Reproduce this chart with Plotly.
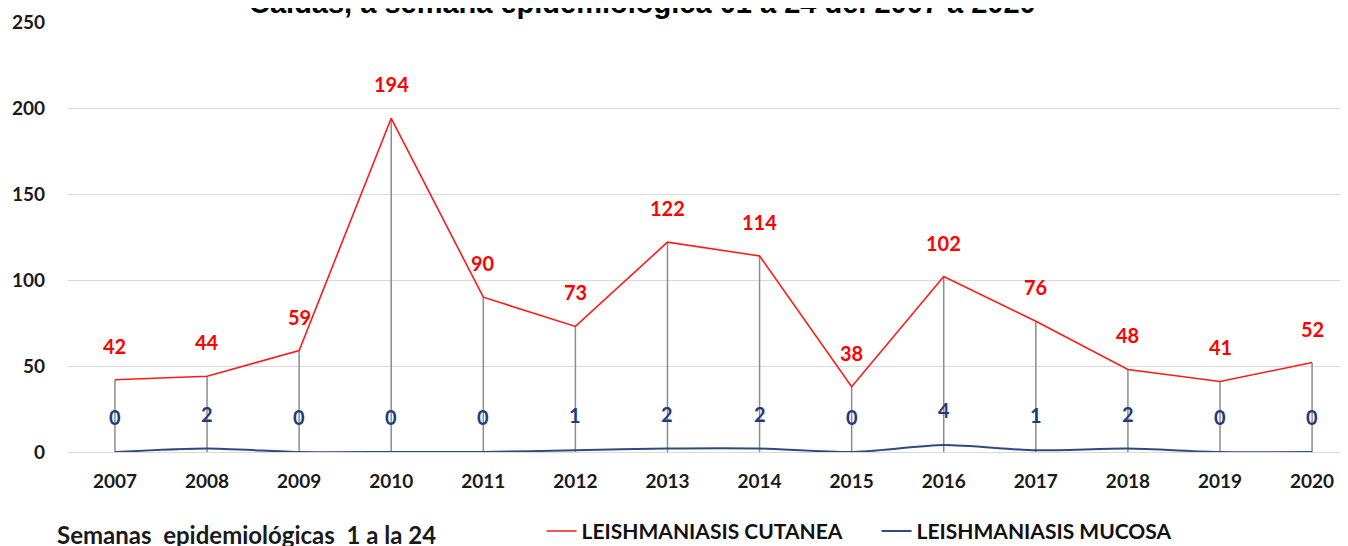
import plotly.graph_objects as go

years = ["2007", "2008", "2009", "2010", "2011", "2012", "2013",
         "2014", "2015", "2016", "2017", "2018", "2019", "2020"]
cutanea = [42, 44, 59, 194, 90, 73, 122, 114, 38, 102, 76, 48, 41, 52]
mucosa = [0, 2, 0, 0, 0, 1, 2, 2, 0, 4, 1, 2, 0, 0]
y_ticks = [0, 50, 100, 150, 200, 250]

title_text = "Caldas, a semana epidemiológica 01 a 24 del 2007 a 2020"
xlabel_text = "Semanas  epidemiológicas  1 a la 24"

RED = "#FF1A1A"
BLUE = "#2E4A82"
BLUE_TXT = "#1F3C7A"
FONT = "Lato"

fig = go.Figure()

# drop lines from the red series down to zero
dx, dy = [], []
for yr, v in zip(years, cutanea):
    dx += [yr, yr, None]
    dy += [0, v, None]
fig.add_trace(go.Scatter(x=dx, y=dy, mode="lines", line=dict(color="#8C8C8C", width=1.5),
                         showlegend=False, hoverinfo="skip"))

fig.add_trace(go.Scatter(x=years, y=cutanea, mode="lines", name="LEISHMANIASIS CUTANEA",
                         line=dict(color=RED, width=1.6)))
fig.add_trace(go.Scatter(x=years, y=mucosa, mode="lines", name="LEISHMANIASIS MUCOSA",
                         line=dict(color=BLUE, width=2, shape="spline", smoothing=0.6)))

for i, v in enumerate(cutanea):
    fig.add_annotation(x=i, y=v, text=str(v), showarrow=False, yshift=34,
                       font=dict(family=FONT, size=20, color="#FF0000", weight="bold"))
for i, v in enumerate(mucosa):
    fig.add_annotation(x=i, y=v, text=str(v), showarrow=False, yshift=35,
                       font=dict(family=FONT, size=20, color=BLUE_TXT, weight="bold"))

fig.add_annotation(xref="paper", yref="paper", x=0.449, y=1.0453, text=title_text,
                   showarrow=False, xanchor="center", yanchor="middle",
                   font=dict(family="Liberation Sans", size=29, color="#000000", weight="bold"))
fig.add_annotation(xref="paper", yref="paper", x=-0.0102, y=-0.1930, text=xlabel_text,
                   showarrow=False, xanchor="left", yanchor="middle",
                   font=dict(family=FONT, size=24, color="#1A1A1A", weight="bold"))

fig.update_layout(
    width=1340, height=538,
    margin=dict(l=60, r=0, t=14, b=94, autoexpand=False),
    paper_bgcolor="white", plot_bgcolor="white",
    showlegend=True,
    legend=dict(orientation="h", x=0.370, y=-0.137, xanchor="left", yanchor="top",
                font=dict(family=FONT, size=21, color="#111111", weight="bold"),
                bgcolor="rgba(0,0,0,0)", itemwidth=30,
                entrywidth=290, entrywidthmode="pixels"),
    xaxis=dict(type="category", range=[-0.51, 13.39], showgrid=False, zeroline=False,
               showline=False, ticks="", ticklabelstandoff=16, automargin=False,
               tickfont=dict(family=FONT, size=19, color="#1A1A1A", weight="bold")),
    yaxis=dict(range=[0, 250], tickvals=y_ticks, showgrid=True, gridcolor="#D9D9D9",
               gridwidth=1.3, zeroline=True, zerolinecolor="#D9D9D9", zerolinewidth=1.3,
               showline=False, ticks="", ticklabelstandoff=22, automargin=False,
               tickfont=dict(family=FONT, size=19, color="#1A1A1A", weight="bold")),
)

fig.write_html("out.html")
